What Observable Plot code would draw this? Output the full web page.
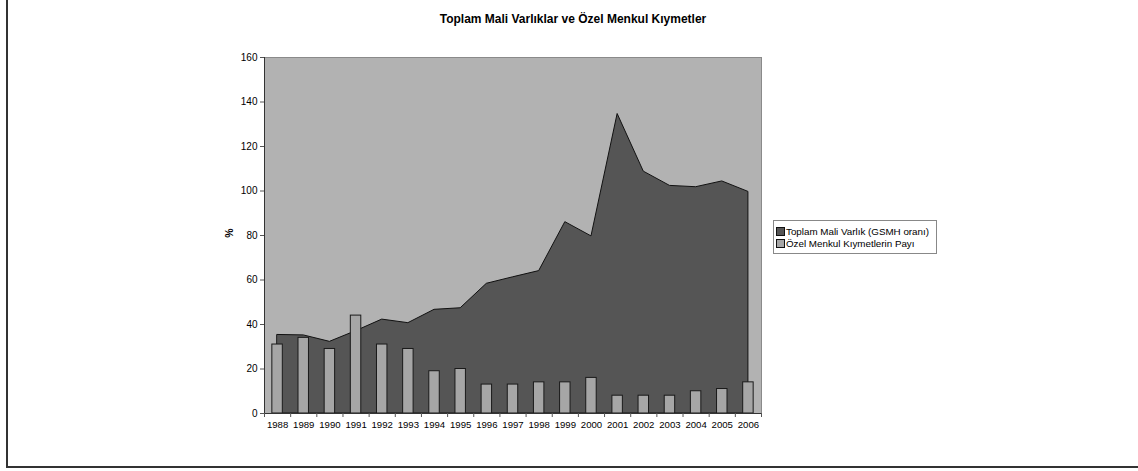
<!DOCTYPE html>
<html>
<head>
<meta charset="utf-8">
<script src="https://cdn.jsdelivr.net/npm/d3@7"></script>
<script src="https://cdn.jsdelivr.net/npm/@observablehq/plot@0.6"></script>
<style>
  html, body { margin: 0; padding: 0; background: #fff; }
  #wrap { position: relative; width: 1138px; height: 471px; overflow: hidden; font-family: "Liberation Sans", Arial, sans-serif; }
  #border { position: absolute; left: 6px; top: -10px; width: 1200px; height: 478px; border: 2px solid #333; box-sizing: border-box; }
  #title { position: absolute; left: 0; width: 1146px; top: 12px; text-align: center; font-weight: bold; font-size: 12px; color: #000; }
  #ylab { position: absolute; left: 224px; top: 227px; font-weight: bold; font-size: 10.5px; transform: rotate(-90deg); transform-origin: center; }
  #legend { position: absolute; left: 773px; top: 220px; width: 164px; height: 34px; border: 1px solid #888; box-sizing: border-box; background: #fff; font-size: 9.8px; }
  .li { position: absolute; left: 2px; height: 11px; line-height: 11px; white-space: nowrap; }
  .sw { display: inline-block; width: 7px; height: 7px; border: 1px solid #111; vertical-align: -1px; margin-right: 1px; }
  #chart { position: absolute; left: 0; top: 0; }
</style>
</head>
<body>
<div id="wrap">
  <div id="border"></div>
  <div id="chart"></div>
  <div id="title">Toplam Mali Varlıklar ve Özel Menkul Kıymetler</div>
  <div id="ylab">%</div>
  <div id="legend"></div>
</div>
<script>
const years = [1988,1989,1990,1991,1992,1993,1994,1995,1996,1997,1998,1999,2000,2001,2002,2003,2004,2005,2006];
const totalAssets = [35.3,35.1,32.2,37.0,42.2,40.6,46.6,47.3,58.3,61.2,64.0,86.0,79.6,134.6,108.7,102.3,101.7,104.3,99.6];
const privateShare = [31,34,29,44,31,29,19,20,13,13,14,14,16,8,8,8,10,11,14];
const yTicks = [0,20,40,60,80,100,120,140,160];
const seriesNames = ["Toplam Mali Varlık (GSMH oranı)", "Özel Menkul Kıymetlerin Payı"];
const seriesColors = ["#555555", "#a6a6a6"];

const data = years.map((y, i) => ({year: y, total: totalAssets[i], share: privateShare[i]}));
const bounds = d3.range(years[0] - 0.5, years[years.length - 1] + 1, 1);

const chart = Plot.plot({
  width: 1138,
  height: 471,
  marginLeft: 264,
  marginRight: 377,
  marginTop: 57,
  marginBottom: 58,
  style: {fontFamily: "Liberation Sans, Arial, sans-serif", fontSize: "10px", color: "#000", background: "transparent"},
  x: {type: "linear", domain: [years[0] - 0.5, years[years.length - 1] + 0.5]},
  y: {domain: [0, 160]},
  marks: [
    Plot.frame({fill: "#b2b2b2", stroke: "#8a8a8a"}),
    Plot.areaY(data, {x: "year", y: "total", fill: seriesColors[0], stroke: "#111", strokeWidth: 1}),
    Plot.rectY(data, {x1: d => d.year - 0.2, x2: d => d.year + 0.2, y: "share", fill: seriesColors[1], stroke: "#1a1a1a", strokeWidth: 1}),
    Plot.ruleY([0], {stroke: "#333"}),
    Plot.ruleX([years[0] - 0.5], {stroke: "#333"}),
    Plot.axisY({ticks: yTicks, tickSize: 4, tickPadding: 3, label: null, stroke: "#555", fontSize: 10}),
    Plot.axisX({ticks: years, tickSize: 0, tickPadding: 8, tickFormat: d => String(d), label: null, fontSize: 9.6}),
    Plot.axisX({ticks: bounds, tickSize: 4, tickFormat: () => "", label: null, stroke: "#555"})
  ]
});
document.getElementById("chart").appendChild(chart);

const legend = document.getElementById("legend");
seriesNames.forEach((name, i) => {
  const row = document.createElement("div");
  row.className = "li";
  row.style.top = (5 + i * 12) + "px";
  const sw = document.createElement("span");
  sw.className = "sw";
  sw.style.background = seriesColors[i];
  row.appendChild(sw);
  row.appendChild(document.createTextNode(name));
  legend.appendChild(row);
});
</script>
</body>
</html>
